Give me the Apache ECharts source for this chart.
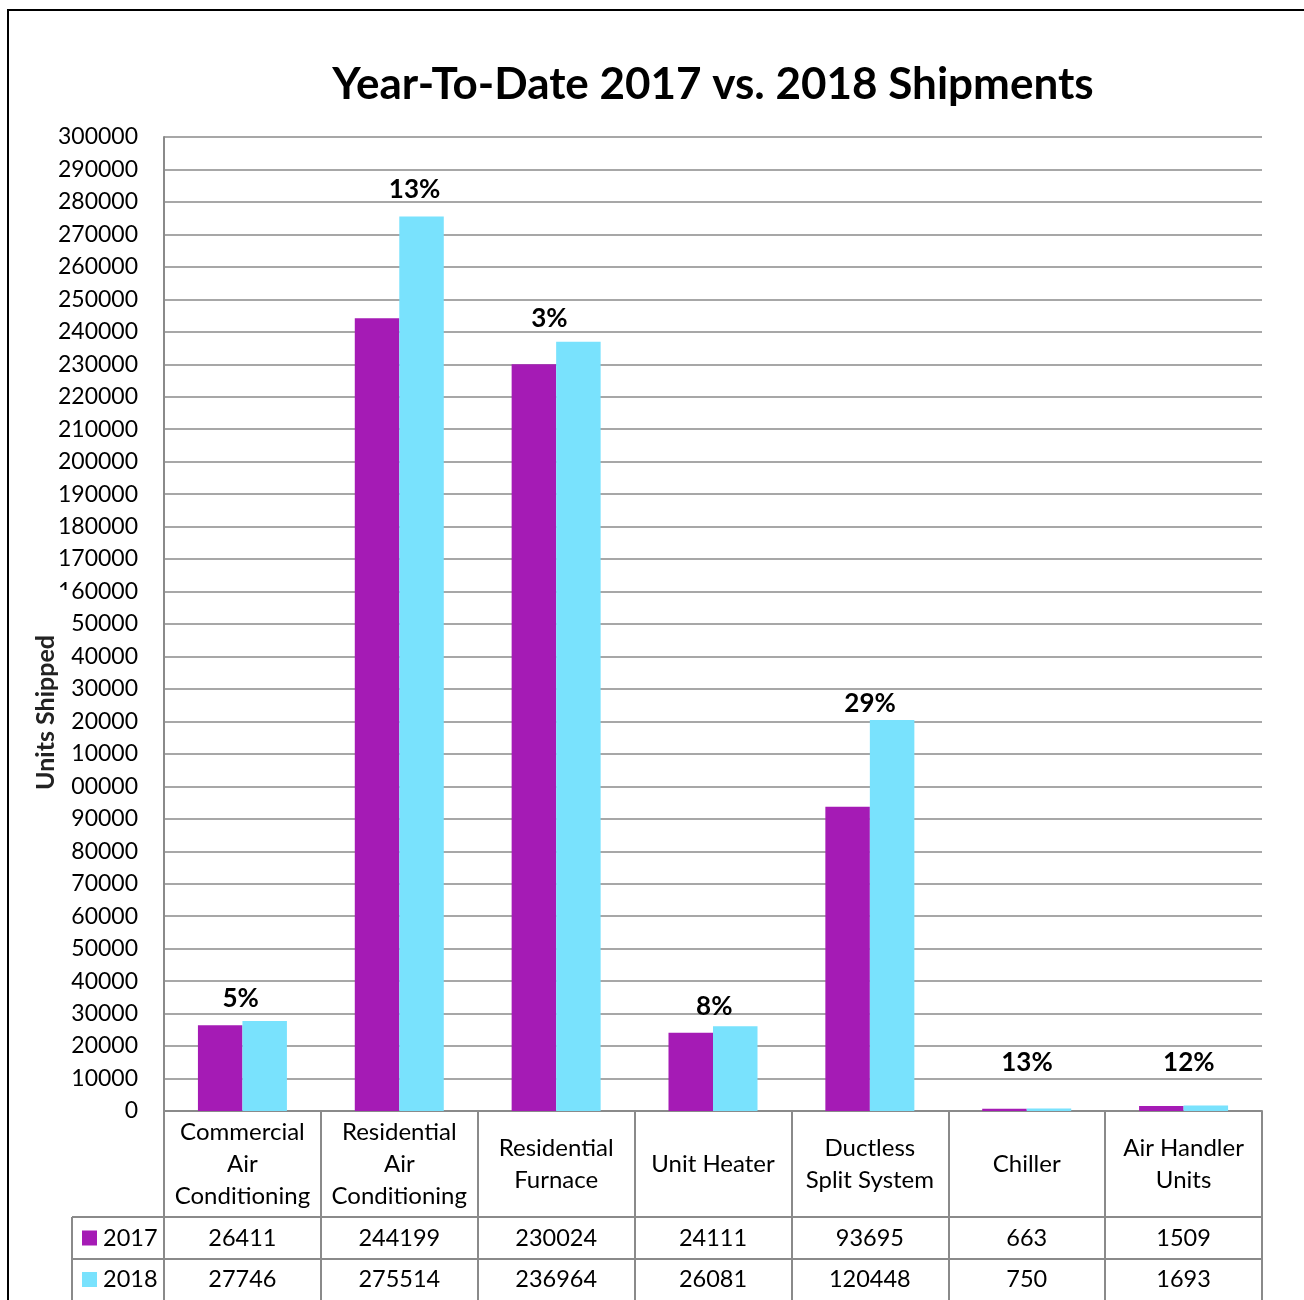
<!DOCTYPE html>
<html><head><meta charset="utf-8">
<script src="https://cdn.jsdelivr.net/npm/echarts@6/dist/echarts.min.js"></script>
<style>html,body{margin:0;padding:0;background:#fff}#c{width:1304px;height:1300px}</style>
</head><body><div id="c"></div>
<script>
const categories = ['Commercial\nAir\nConditioning','Residential\nAir\nConditioning','Residential\nFurnace','Unit Heater','Ductless\nSplit System','Chiller','Air Handler\nUnits'];
const values2017 = [26411,244199,230024,24111,93695,663,1509];
const values2018 = [27746,275514,236964,26081,120448,750,1693];
const changeLabels = ['5%','13%','3%','8%','29%','13%','12%'];
const seriesNames = ['2017','2018'];
const titleText = 'Year-To-Date 2017 vs. 2018 Shipments';
const yAxisTitle = 'Units Shipped';

const FONT = 'Lato';
const C17 = '#a51bb5', C18 = '#79e2fd', GRID = '#8a8a8a';
const labelOffsets = [[-24,-9],[-7,-14],[-29,-10],[-21,-7],[-22,-3],[-22,-33],[-17,-30]];

const chart = echarts.init(document.getElementById('c'), null, {renderer:'canvas'});
const option = {
  animation:false,
  backgroundColor:'#fff',
  title:{text:titleText,left:708,top:80,textAlign:'center',textVerticalAlign:'middle',
    textStyle:{fontFamily:FONT,fontSize:44,fontWeight:'bold',color:'#000'}},
  grid:{left:164,right:42,top:137,bottom:189,containLabel:false},
  xAxis:{type:'category',data:categories,
    axisLine:{lineStyle:{color:GRID,width:2}},
    axisTick:{show:true,length:200,lineStyle:{color:GRID,width:2}},
    axisLabel:{interval:0,margin:53,verticalAlign:'middle',lineHeight:32,fontSize:24,fontFamily:FONT,color:'#000',align:'center'}},
  yAxis:{type:'value',min:0,max:300000,interval:10000,
    axisLine:{show:true,lineStyle:{color:GRID,width:2}},
    axisTick:{show:false},
    splitLine:{lineStyle:{color:GRID,width:1.5}},
    axisLabel:{fontSize:23,fontFamily:FONT,color:'#000',margin:26,formatter:v=>String(v)}},
  series:[
    {name:seriesNames[0],type:'bar',data:values2017,barWidth:44.5,barGap:'0%',itemStyle:{color:C17}},
    {name:seriesNames[1],type:'bar',data:values2018.map((v,i)=>({value:v,label:{offset:labelOffsets[i]}})),barWidth:44.5,barGap:'0%',itemStyle:{color:C18},
      label:{show:true,position:'top',distance:0,fontFamily:FONT,fontSize:26,fontWeight:'bold',color:'#000',
        formatter:p=>changeLabels[p.dataIndex]}}
  ]
};
chart.setOption(option);

const y0 = chart.convertToPixel({yAxisIndex:0},0);
const centers = categories.map((c,i)=>chart.convertToPixel({xAxisIndex:0},i));
const bw = centers[1]-centers[0];
const xR = centers[centers.length-1]+bw/2;
const rowTop1 = y0+106, rowTop2 = y0+148, rowBot = y0+189;
const leftX = 72;
const g = [];
g.push({type:'rect',shape:{x:8,y:10,width:1400,height:1400},style:{fill:null,stroke:'#000',lineWidth:2},z:1,silent:true});
[rowTop1,rowTop2].forEach(y=>g.push({type:'line',shape:{x1:leftX,y1:y,x2:xR,y2:y},style:{stroke:GRID,lineWidth:2},z:10}));
g.push({type:'line',shape:{x1:leftX,y1:rowTop1,x2:leftX,y2:rowBot+20},style:{stroke:GRID,lineWidth:2},z:10});
const rows = [[values2017,C17,seriesNames[0]],[values2018,C18,seriesNames[1]]];
rows.forEach((r,ri)=>{
  const yc = (ri===0? (rowTop1+rowTop2)/2 : (rowTop2+rowBot)/2);
  g.push({type:'rect',shape:{x:82,y:yc-7.5,width:15,height:15},style:{fill:r[1]},z:10});
  g.push({type:'text',x:103,y:yc,style:{text:r[2],font:'23.5px '+FONT,fill:'#000',textVerticalAlign:'middle',textAlign:'left'},z:10});
  r[0].forEach((v,i)=>g.push({type:'text',x:centers[i],y:yc,style:{text:String(v),font:'23.5px '+FONT,fill:'#000',textAlign:'center',textVerticalAlign:'middle'},z:10}));
});
g.push({type:'text',x:46,y:695,rotation:Math.PI/2,style:{text:yAxisTitle,font:'bold 25px '+FONT,fill:'#222',align:'center',verticalAlign:'middle',backgroundColor:'#fff',padding:[8,45,15,10]},z:20});
chart.setOption({graphic:g});
</script></body></html>
